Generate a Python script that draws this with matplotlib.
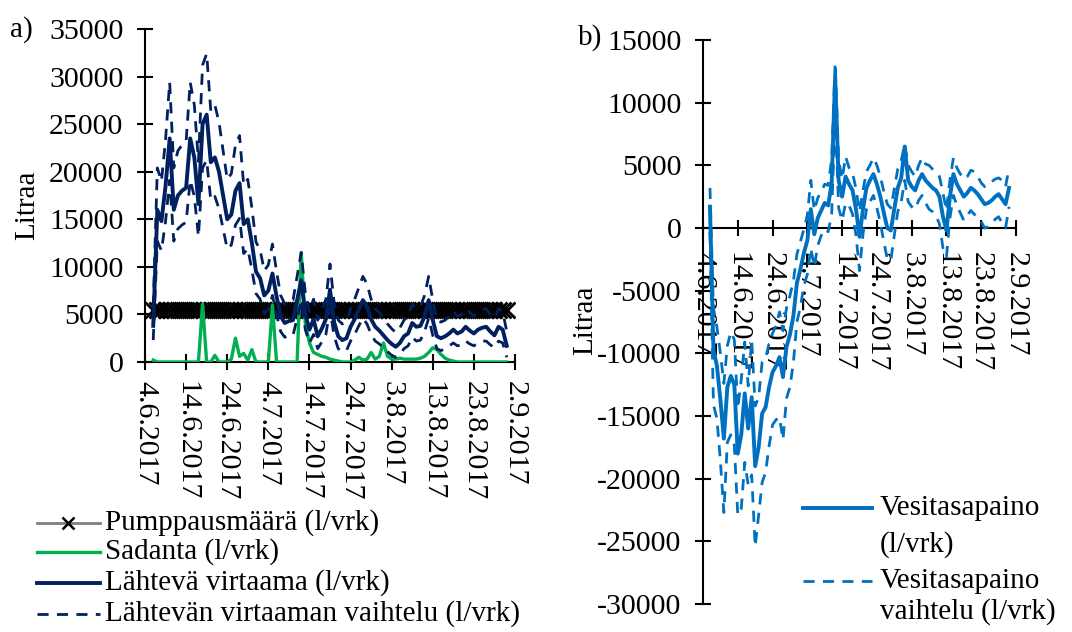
import numpy as np
import pandas as pd
import matplotlib
matplotlib.use("Agg")
import matplotlib.pyplot as plt
from matplotlib.lines import Line2D

plt.rcParams['font.family'] = ['Liberation Serif', 'DejaVu Serif']
plt.rcParams['axes.unicode_minus'] = False
FS = 21
FS_TICK = 21.5

# ---------------- data ----------------
origin = '2017-06-04'
dates = pd.date_range('2017-06-06', '2017-08-31', freq='D')
tick_labels = ['4.6.2017', '14.6.2017', '24.6.2017', '4.7.2017', '14.7.2017',
               '24.7.2017', '3.8.2017', '13.8.2017', '23.8.2017', '2.9.2017']

pump = [5500] * len(dates)

rain = [200, 0, 0, 0, 0, 0, 0, 0, 0, 0,
        0, 0, 6100, 0, 0, 700, 0, 0, 0, 300,
        2500, 600, 900, 200, 1300, 0, 0, 0, 0, 6000,
        0, 0, 0, 0, 0, 0, 11500, 4000, 2000, 1000,
        800, 600, 500, 300, 200, 100, 0, 0, 0, 200,
        500, 200, 300, 1000, 300, 600, 2000, 600, 300, 300,
        400, 300, 300, 300, 300, 400, 600, 1000, 1500, 1300,
        800, 400, 200, 100, 0, 0, 0, 0, 0, 0,
        0, 0, 0, 0, 0, 0, 0]

outflow = [3800, 16000, 14800, 18500, 23500, 16000, 17500, 18000, 18300, 23500,
           21500, 16600, 25000, 26000, 21000, 21500, 20000, 17500, 15000, 15500,
           18000, 18800, 14500, 15000, 12500, 9500, 8800, 7000, 7500, 9300,
           6900, 4800, 4100, 4300, 4400, 6500, 8600, 5000, 3400, 4500,
           2700, 3500, 4500, 7600, 4200, 2700, 2300, 2500, 3700, 4500,
           5500, 6500, 5800, 4500, 3700, 3300, 2800, 2300, 1900, 1600,
           2000, 2700, 3000, 4100, 3700, 3800, 4800, 6500, 4400, 2700,
           2500, 2700, 3000, 3400, 3000, 3200, 3700, 3300, 3000, 3400,
           3600, 3700, 3200, 2800, 3700, 3400, 1700]

outflow_upper = [5800, 20400, 19000, 23400, 29400, 20400, 22200, 22800, 23200, 29400,
                 27000, 21100, 31200, 32400, 26400, 27000, 25200, 22200, 19200, 19800,
                 22800, 23800, 18600, 19200, 16200, 12600, 11800, 9600, 10200, 12400,
                 9500, 7000, 6100, 6400, 6500, 9000, 11500, 7200, 5300, 6600,
                 4400, 5400, 6600, 10300, 6200, 4400, 4000, 4200, 5600, 6600,
                 7800, 9000, 8200, 6600, 5600, 5200, 4600, 4000, 3500, 3100,
                 3600, 4400, 4800, 6100, 5600, 5800, 7000, 9000, 6500, 4400,
                 4200, 4400, 4800, 5300, 4800, 5000, 5600, 5200, 4800, 5300,
                 5500, 5600, 5000, 4600, 5600, 5300, 3200]

outflow_lower = [2300, 12700, 11700, 14800, 19100, 12700, 14000, 14400, 14700, 19100,
                 17400, 13200, 20400, 21200, 17000, 17400, 16100, 14000, 11900, 12300,
                 14400, 15100, 11400, 11900, 9700, 7200, 6600, 5100, 5500, 7000,
                 5000, 3200, 2600, 2800, 2800, 4600, 6400, 3400, 2000, 2900,
                 1400, 2100, 2900, 5600, 2700, 1400, 1100, 1200, 2200, 2900,
                 3800, 4600, 4000, 2900, 2200, 1900, 1500, 1100, 700, 500,
                 800, 1400, 1700, 2600, 2200, 2300, 3200, 4600, 2800, 1400,
                 1200, 1400, 1700, 2000, 1700, 1800, 2200, 1900, 1700, 2000,
                 2200, 2200, 1800, 1500, 2200, 2000, 500]

balance = [1700, -9700, -11000, -13700, -16800, -12700, -11800, -12500, -18000, -16500,
           -13200, -16000, -13500, -19000, -17500, -14800, -14300, -12700, -11500, -11000,
           -10300, -11900, -9500, -8500, -7000, -4400, -3300, -2000, -1000, 1500,
           -500, 800, 1400, 2000, 1800, 3600, 12100, 3800, 2500, 4100,
           3500, 3000, 1500, -700, 1500, 3200, 3800, 4300, 3500, 2500,
           1200, 0, -200, 1500, 3200, 4000, 6500, 3800, 3300, 3000,
           3800, 4300, 3800, 3500, 3200, 3000, 2500, 900, -200, 2500,
           4300, 3500, 3000, 2500, 2800, 3200, 3000, 2700, 2300, 1900,
           2000, 2200, 2500, 2700, 2300, 1900, 3200]

balance_upper = [3200, -6400, -7900, -10000, -12400, -9400, -8300, -8900, -14400, -12100,
                 -9100, -12600, -8900, -14200, -13500, -10700, -10400, -9200, -8400, -7800,
                 -6700, -8200, -6400, -5400, -4200, -2100, -1100, -100, 1000, 3800,
                 1400, 2400, 2900, 3500, 3400, 5500, 13200, 5400, 3900, 5700,
                 4800, 4400, 3100, 1300, 3000, 4500, 5000, 5600, 5000, 4100,
                 2900, 1900, 1600, 3100, 4700, 5400, 6700, 5000, 4500, 4100,
                 5000, 5600, 5100, 5000, 4700, 4500, 4100, 2800, 1400, 3800,
                 5600, 4800, 4300, 3900, 4100, 4600, 4500, 4100, 3600, 3300,
                 3400, 3700, 3900, 4000, 3800, 3300, 4800]

balance_lower = [-300, -14100, -15200, -18600, -22700, -17100, -16500, -17300, -22900, -22400,
                 -18700, -20500, -19700, -25400, -22900, -20300, -19500, -17400, -15700, -15300,
                 -15100, -16900, -13600, -12700, -10700, -7500, -6300, -4600, -3700, -1600,
                 -3100, -1400, -600, -100, -300, 1100, 9200, 1600, 600, 2000,
                 1800, 1100, -600, -3400, -500, 1500, 2100, 2600, 1600, 400,
                 -1100, -2500, -2600, -600, 1300, 2100, 3800, 2100, 1700, 1500,
                 2200, 2600, 2000, 1500, 1300, 1000, 300, -1600, -2300, 800,
                 2600, 1800, 1200, 600, 1000, 1400, 1100, 800, 500, 0,
                 100, 300, 700, 900, 400, 0, 1700]

labels_a = ['Pumppausmäärä (l/vrk)', 'Sadanta (l/vrk)', 'Lähtevä virtaama (l/vrk)',
            'Lähtevän virtaaman vaihtelu (l/vrk)']
labels_b = ['Vesitasapaino', '(l/vrk)', 'Vesitasapaino', 'vaihtelu (l/vrk)']

# ---------------- styles ----------------
NAVY = '#002060'
GREEN = '#00B050'
GRAY = '#7F7F7F'
BLUE = '#0070C0'
DASH = (4.0, 3.0)
LW_SOLID = 2.8
LW_DASH = 2.0

x = (dates - pd.Timestamp(origin)).days.values
tick_pos = (pd.to_datetime(tick_labels, format='%d.%m.%Y') - pd.Timestamp(origin)).days.values

W, H = 1072, 632
fig = plt.figure(figsize=(W / 100, H / 100), dpi=100)


def fx(px):
    return px / W


def fy(py):
    return 1 - py / H


def style_axes(ax, xpad):
    for s in ['top', 'right']:
        ax.spines[s].set_visible(False)
    for s in ['left', 'bottom']:
        ax.spines[s].set_linewidth(1.5)
        ax.spines[s].set_color('black')
    ax.set_xlim(0, 90)
    ax.set_xticks(tick_pos)
    ax.set_xticklabels(tick_labels, rotation=-90)
    ax.tick_params(axis='y', direction='inout', length=11, width=1.5, labelsize=FS_TICK, pad=10)
    ax.tick_params(axis='x', direction='inout', length=11, width=1.5, labelsize=FS_TICK, pad=xpad)
    ax.patch.set_visible(False)


# ---------------- panel a ----------------
ax1 = fig.add_axes([fx(145), fy(362), fx(515) - fx(145), fy(29) - fy(362)])
ax1.plot(x, pump, color=GRAY, lw=2.0, marker='x', ms=12, mew=2.0, mec='black', zorder=2)
ax1.plot(x, rain, color=GREEN, lw=2.4, zorder=3)
ax1.plot(x, outflow, color=NAVY, lw=LW_SOLID, zorder=4)
ax1.plot(x, outflow_upper, color=NAVY, lw=LW_DASH, dashes=DASH, zorder=4)
ax1.plot(x, outflow_lower, color=NAVY, lw=LW_DASH, dashes=DASH, zorder=4)
ax1.set_ylim(0, 35000)
ax1.set_yticks(np.arange(0, 35001, 5000))
style_axes(ax1, 8)

# ---------------- panel b ----------------
ax2 = fig.add_axes([fx(703), fy(604), fx(1016) - fx(703), fy(40) - fy(604)])
ax2.plot(x, balance, color=BLUE, lw=LW_SOLID, zorder=4)
ax2.plot(x, balance_upper, color=BLUE, lw=LW_DASH, dashes=DASH, zorder=4)
ax2.plot(x, balance_lower, color=BLUE, lw=LW_DASH, dashes=DASH, zorder=4)
ax2.set_ylim(-30000, 15000)
ax2.spines['bottom'].set_position(('data', 0))
ax2.set_yticks(np.arange(-30000, 15001, 5000))
style_axes(ax2, 12)

# ---------------- texts ----------------
fig.text(fx(27), fy(205), 'Litraa', rotation=90, ha='center', va='center', fontsize=FS)
fig.text(fx(585), fy(320), 'Litraa', rotation=90, ha='center', va='center', fontsize=FS)
fig.text(fx(10), fy(30), 'a)', ha='left', va='center', fontsize=FS)
fig.text(fx(578), fy(38), 'b)', ha='left', va='center', fontsize=FS)

# ---------------- legend a (manual) ----------------
rows = [523, 552, 583, 614]
fig.add_artist(Line2D([fx(37), fx(100)], [fy(rows[0])] * 2, color=GRAY, lw=2.0))
fig.add_artist(Line2D([fx(68)], [fy(rows[0])], color='black', marker='x', ms=9, mew=1.8, ls='none'))
fig.add_artist(Line2D([fx(37), fx(100)], [fy(rows[1])] * 2, color=GREEN, lw=2.4))
fig.add_artist(Line2D([fx(37), fx(100)], [fy(rows[2])] * 2, color=NAVY, lw=LW_SOLID))
fig.add_artist(Line2D([fx(37), fx(100)], [fy(rows[3])] * 2, color=NAVY, lw=LW_DASH, dashes=DASH))
for r, lab in zip(rows, labels_a):
    fig.text(fx(105), fy(r), lab, ha='left', va='center', fontsize=FS)

# ---------------- legend b (manual) ----------------
fig.add_artist(Line2D([fx(803), fx(872)], [fy(508)] * 2, color=BLUE, lw=LW_SOLID))
fig.add_artist(Line2D([fx(803), fx(872)], [fy(581)] * 2, color=BLUE, lw=LW_DASH, dashes=DASH))
for r, lab in zip([508, 545, 581, 612], labels_b):
    fig.text(fx(880), fy(r), lab, ha='left', va='center', fontsize=FS)

fig.savefig('out.png', dpi=100)
